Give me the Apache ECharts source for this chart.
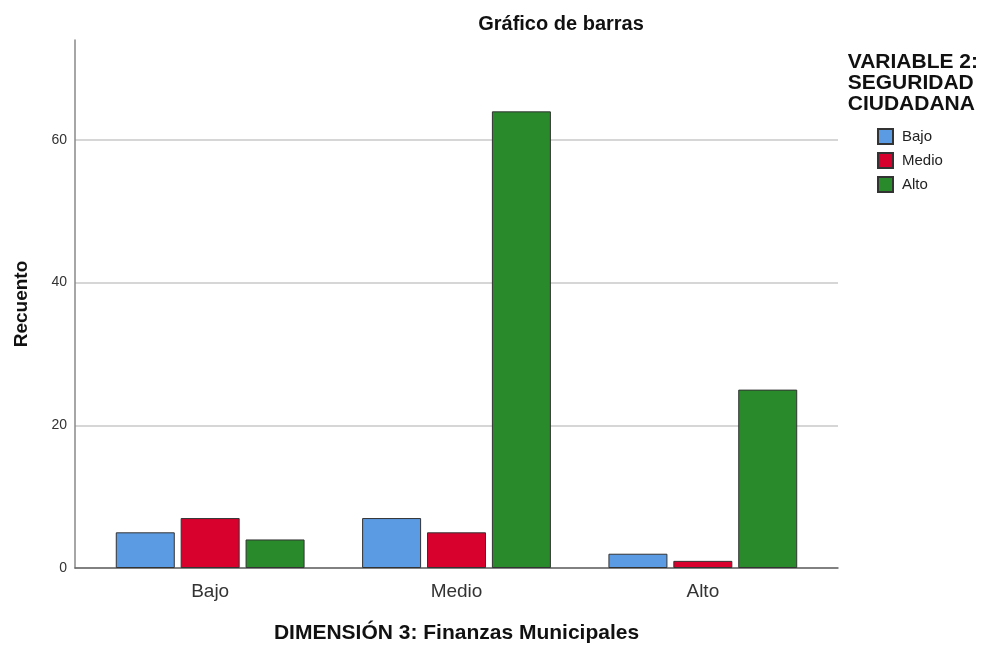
<!DOCTYPE html>
<html>
<head>
<meta charset="utf-8">
<script src="https://cdn.jsdelivr.net/npm/echarts@6/dist/echarts.min.js"></script>
<style>
    html, body { margin: 0; padding: 0; background: #fff; }
    #chart { width: 984px; height: 645px; }
</style>
</head>
<body>
<div id="chart"></div>
<script>
    // datos
    const categories = ['Bajo', 'Medio', 'Alto'];
    const seriesNames = ['Bajo', 'Medio', 'Alto'];
    const bajoValues = [5, 7, 2];
    const medioValues = [7, 5, 1];
    const altoValues = [4, 64, 25];

    const colors = ['#5b9be3', '#d8002c', '#298a2c'];
    const font = 'Liberation Sans, Arial, sans-serif';
    const yMax = 74;

    const chart = echarts.init(document.getElementById('chart'));

    function makeSeries(name, values, idx){
        return {
            name: name,
            type: 'bar',
            xAxisIndex: 0,
            yAxisIndex: 0,
            data: values,
            barWidth: 59,
            barGap: '10%',
            itemStyle: {
                color: colors[idx],
                borderColor: '#333',
                borderWidth: 1
            }
        };
    }

    const option = {
        animation: false,
        textStyle: { fontFamily: font },
        title: [
            {
                text: 'Gráfico de barras',
                left: 556,
                top: 9,
                textAlign: 'center',
                textStyle: { fontSize: 20, fontWeight: 'bold', color: '#111', fontFamily: font }
            },
            {
                text: 'VARIABLE 2:\nSEGURIDAD\nCIUDADANA',
                right: 6,
                top: 52,
                padding: 0,
                textStyle: {
                    fontSize: 21, fontWeight: 'bold', color: '#111', fontFamily: font,
                    lineHeight: 21, align: 'right'
                }
            }
        ],
        legend: {
            orient: 'vertical',
            left: 872,
            top: 123,
            itemWidth: 15,
            itemHeight: 15,
            itemGap: 7,
            icon: 'rect',
            data: seriesNames,
            textStyle: { fontSize: 15, color: '#222', fontFamily: font, padding: [0, 0, 0, 4] }
        },
        grid: [
            // barras
            { left: 87, right: 158, top: 40, bottom: 77, outerBoundsMode: 'none' },
            // marco de ejes
            { left: 75, right: 146, top: 40, bottom: 77, outerBoundsMode: 'none' }
        ],
        xAxis: [
            {
                gridIndex: 0,
                type: 'category',
                data: categories,
                name: 'DIMENSIÓN 3: Finanzas Municipales',
                nameLocation: 'middle',
                nameGap: 55,
                nameTextStyle: { fontSize: 21, fontWeight: 'bold', color: '#111', fontFamily: font },
                axisLine: { show: false },
                axisTick: { show: false },
                axisLabel: { fontSize: 19, color: '#333', margin: 14, fontFamily: font }
            },
            {
                gridIndex: 1,
                type: 'value',
                min: 0,
                max: 1,
                axisLine: { show: true, onZero: false, lineStyle: { color: '#666', width: 1.5 } },
                axisTick: { show: false },
                axisLabel: { show: false },
                splitLine: { show: false }
            }
        ],
        yAxis: [
            {
                gridIndex: 0,
                type: 'value',
                min: 0,
                max: yMax,
                show: false,
                splitLine: { show: false }
            },
            {
                gridIndex: 1,
                type: 'value',
                min: 0,
                max: yMax,
                interval: 20,
                name: 'Recuento',
                nameLocation: 'middle',
                nameGap: 44,
                nameTextStyle: { fontSize: 19, fontWeight: 'bold', color: '#111', fontFamily: font },
                axisLine: { show: true, lineStyle: { color: '#888', width: 1.5 } },
                axisTick: { show: false },
                splitLine: {
                    show: true,
                    lineStyle: {
                        color: ['#c8c8c8', '#c8c8c8', '#c8c8c8', '#c8c8c8', 'rgba(0,0,0,0)'],
                        width: 1.5
                    }
                },
                axisLabel: {
                    fontSize: 14, color: '#333', margin: 8, fontFamily: font, showMaxLabel: false
                }
            }
        ],
        series: [
            makeSeries(seriesNames[0], bajoValues, 0),
            makeSeries(seriesNames[1], medioValues, 1),
            makeSeries(seriesNames[2], altoValues, 2)
        ]
    };

    chart.setOption(option);
</script>
</body>
</html>
